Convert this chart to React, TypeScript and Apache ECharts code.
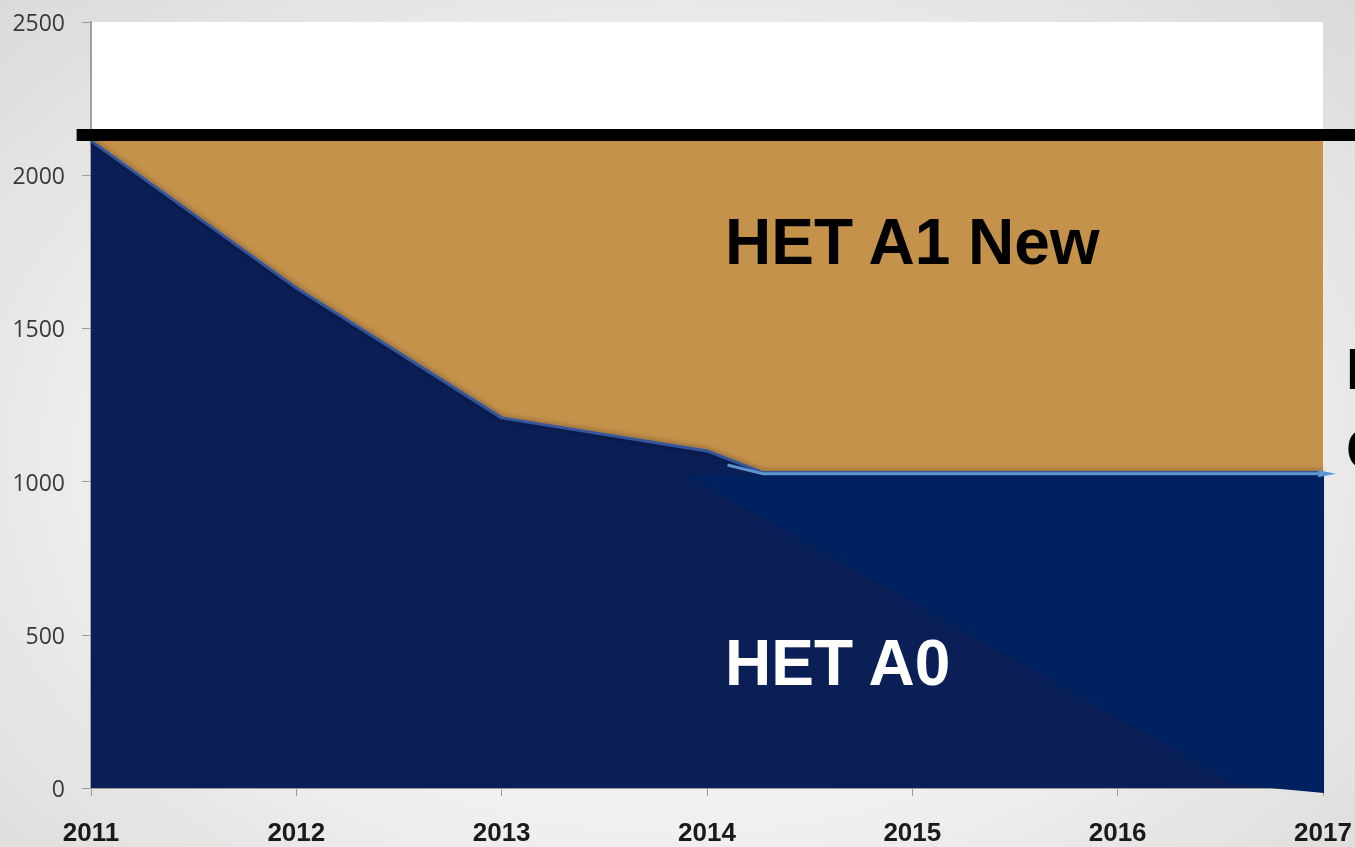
import React, { useEffect, useRef } from "react";
import * as echarts from "echarts";

// ---- data ----
const yearTicks = [2011, 2012, 2013, 2014, 2015, 2016, 2017];
const a1Years = [2011, 2017];
const a1Values = [2112, 2112];
const a0Years = [2011, 2012, 2013, 2014, 2014.27, 2017];
const a0Values = [2112, 1632, 1208, 1100, 1030, 1030];
const overlayYears = [2013.9, 2017.005, 2017.005, 2016.58];
const overlayValues = [1021, 1021, -16, 10];
const guideYears = [2014.1, 2014.27, 2017.02];
const guideValues = [1054, 1026, 1026];
const capYears = [2010.93, 2017.16];
const capValues = [2131, 2131];

const GOLD = "#c5924b";
const DARK = "#0b1f57";
const BRIGHT = "#00215f";

export default function App() {
  const ref = useRef<HTMLDivElement>(null);
  useEffect(() => {
    if (!ref.current) return;
    const chart = echarts.init(ref.current, null, { renderer: "svg" });
    const zip = (xs: number[], ys: number[]) => xs.map((x, i) => [x, ys[i]]);
    const guideData: any[] = zip(guideYears, guideValues);
    const last = guideData[guideData.length - 1];
    guideData[guideData.length - 1] = {
      value: last,
      symbol: "triangle",
      symbolRotate: -90,
      symbolSize: [7, 18],
    };
    const textFont = "bold 64px 'Liberation Sans', Arial, sans-serif";
    chart.setOption({
      animation: false,
      backgroundColor: "transparent",
      grid: {
        left: 91,
        right: 32,
        top: 22,
        bottom: 59,
        show: true,
        backgroundColor: "#ffffff",
        borderWidth: 0,
      },
      xAxis: {
        type: "value",
        min: 2011,
        max: 2017,
        interval: 1,
        splitLine: { show: false },
        axisLine: { show: true, lineStyle: { color: "#9a9a9a", width: 1 } },
        axisTick: { show: true, length: 8, lineStyle: { color: "#9a9a9a" } },
        axisLabel: {
          formatter: (v: number) => String(v),
          fontFamily: "Liberation Sans",
          fontWeight: "bold",
          fontSize: 26,
          lineHeight: 28,
          color: "#1a1a1a",
          margin: 30,
        },
      },
      yAxis: {
        type: "value",
        min: 0,
        max: 2500,
        interval: 500,
        splitLine: { show: false },
        axisLine: { show: true, lineStyle: { color: "#a0a0a0", width: 2 } },
        axisTick: { show: true, length: 9, lineStyle: { color: "#9a9a9a" } },
        axisLabel: {
          formatter: (v: number) => String(v),
          fontFamily: "Open Sans",
          fontSize: 23,
          color: "#3a3a3a",
          margin: 26,
        },
      },
      series: [
        {
          name: "HET A1 New",
          type: "line",
          data: zip(a1Years, a1Values),
          symbol: "none",
          lineStyle: { width: 0 },
          areaStyle: { color: GOLD, opacity: 1 },
          z: 1,
        },
        {
          name: "HET A0",
          type: "line",
          data: zip(a0Years, a0Values),
          symbol: "none",
          lineStyle: {
            color: "#34559c",
            width: 3,
            shadowBlur: 6,
            shadowColor: "rgba(0,0,0,0.55)",
          },
          areaStyle: { color: DARK, opacity: 1 },
          z: 2,
        },
        {
          name: "overlay",
          type: "custom",
          clip: false,
          data: zip(overlayYears, overlayValues),
          renderItem: (params: any, api: any) => {
            if (params.dataIndex !== 0) return { type: "group", children: [] };
            const pts = overlayYears.map((x, i) => api.coord([x, overlayValues[i]]));
            return {
              type: "polygon",
              shape: { points: pts },
              style: { fill: BRIGHT },
            };
          },
          z: 3,
        },
        {
          name: "guide",
          type: "line",
          clip: false,
          data: guideData,
          symbol: "none",
          itemStyle: { color: "#5f96cd" },
          lineStyle: { color: "#5f96cd", width: 3 },
          z: 4,
        },
      ],
      graphic: [
        {
          type: "text",
          left: 725,
          top: 210,
          style: { text: "HET A1 New", fill: "#000000", font: textFont },
          z: 10,
        },
        {
          type: "text",
          left: 725,
          top: 631,
          style: { text: "HET A0", fill: "#ffffff", font: textFont },
          z: 10,
        },
        {
          type: "text",
          left: 1346,
          top: 339,
          style: {
            text: "I",
            fill: "#000000",
            font: "bold 58px 'Liberation Sans', Arial, sans-serif",
          },
          z: 10,
        },
        {
          type: "text",
          left: 1346,
          top: 419,
          style: {
            text: "C",
            fill: "#000000",
            font: "bold 58px 'Liberation Sans', Arial, sans-serif",
          },
          z: 10,
        },
      ],
    });
    // cap line drawn through the chart's own scale
    const p1 = chart.convertToPixel({ gridIndex: 0 }, [capYears[0], capValues[0]]) as number[];
    const p2 = chart.convertToPixel({ gridIndex: 0 }, [capYears[1], capValues[1]]) as number[];
    chart.setOption({
      graphic: [
        {
          id: "cap",
          type: "line",
          shape: { x1: p1[0], y1: p1[1], x2: p2[0] + 40, y2: p2[1] },
          style: { stroke: "#000000", lineWidth: 12 },
          z: 9,
        },
      ],
    });
    return () => chart.dispose();
  }, []);
  return (
    <div
      style={{
        position: "fixed",
        left: 0,
        top: 0,
        width: 1355,
        height: 847,
        background:
          "radial-gradient(ellipse at 50% 55%, #fbfafa 0%, #f1efef 55%, #dcd9d9 100%)",
      }}
    >
      <div ref={ref} style={{ width: 1355, height: 847 }} />
    </div>
  );
}
